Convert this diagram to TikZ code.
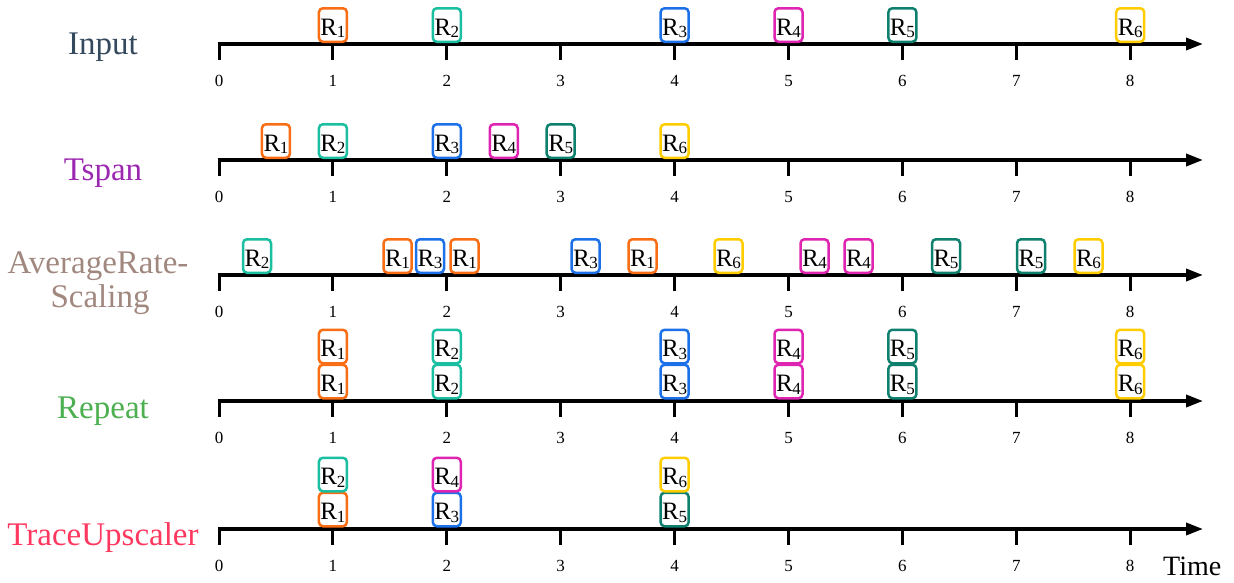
\documentclass[tikz,border=0pt]{standalone}
\usepackage{fontspec}
\setmainfont{Liberation Serif}
\usetikzlibrary{arrows.meta}
\definecolor{cR1}{RGB}{249,110,20}
\definecolor{cR2}{RGB}{26,190,160}
\definecolor{cR3}{RGB}{28,112,232}
\definecolor{cR4}{RGB}{222,36,176}
\definecolor{cR5}{RGB}{14,128,110}
\definecolor{cR6}{RGB}{255,204,0}
\definecolor{cInput}{RGB}{52,73,94}
\definecolor{cTspan}{RGB}{156,39,176}
\definecolor{cARS}{RGB}{161,136,127}
\definecolor{cRepeat}{RGB}{76,175,80}
\definecolor{cTU}{RGB}{255,56,96}
\newcommand\Rsub[1]{R\kern-0.3pt\raisebox{-2.5pt}{\fontsize{17}{17}\selectfont #1}}
\tikzset{
  rbox/.style={draw=cR#1, line width=2.5pt, rounded corners=4pt,
    minimum width=28pt, minimum height=33.5pt, inner sep=0pt,
    text height=20pt, text depth=0pt, font=\fontsize{25}{25}\selectfont,
    node contents={\Rsub{#1}}},
  axisline/.style={line width=3.5pt, -{Triangle[length=17pt,width=12pt]}},
  tickmark/.style={line width=3pt},
  ticklabel/.style={font=\fontsize{17}{17}\selectfont, inner sep=0pt},
  rowlabel/.style={font=\fontsize{33}{33}\selectfont, anchor=base, inner sep=0pt},
}
\begin{document}
\begin{tikzpicture}[x=1pt,y=-1pt]
\useasboundingbox (0,0) rectangle (1234,582);
% axes with ticks
\foreach \row/\y in {in/44, ts/160, ars/275, rep/401, tu/529}{
  \coordinate (\row-s) at (217.5,\y);
  \coordinate (\row-e) at (1203,\y);
  \draw[axisline] (\row-s) -- (\row-e);
  \foreach \t in {0,0.5,...,8}{
    \coordinate (\row-t\t) at ({219+113.9*\t},\y-1.5);
    \coordinate (\row-b\t) at ({219+113.9*\t},\y+16);
    \draw[tickmark] (\row-t\t) -- (\row-b\t);
  }
  \foreach \t in {0,...,8}{
    \node[ticklabel] (\row-l\t) at ({219+113.9*\t},\y+37) {\t};
  }
}
% row labels
\node[rowlabel, text=cInput] (lab-in) at (103,54) {Input};
\node[rowlabel, text=cTspan] (lab-ts) at (103,180) {Tspan};
\node[rowlabel, text=cARS] (lab-ars1) at (98,273) {AverageRate-};
\node[rowlabel, text=cARS] (lab-ars2) at (100,307) {Scaling};
\node[rowlabel, text=cRepeat] (lab-rep) at (103,418) {Repeat};
\node[rowlabel, text=cTU] (lab-tu) at (103,545) {TraceUpscaler};
\node[font=\fontsize{28}{28}\selectfont, anchor=base west, inner sep=0pt] (time) at (1163,575) {Time};
% Input
\foreach \t/\r in {1/1,2/2,4/3,5/4,6/5,8/6}{
  \node (in-\r) at ({219+113.9*\t},25) [rbox=\r];
}
% Tspan
\foreach \t/\r in {0.5/1,1/2,2/3,2.5/4,3/5,4/6}{
  \node (ts-\r) at ({219+113.9*\t},141) [rbox=\r];
}
% AverageRateScaling
\foreach \x/\r/\k in {257/2/a,397.5/1/b,430/3/c,464.5/1/d,585.5/3/e,642.5/1/f,728.5/6/g,814.5/4/h,858.5/4/i,946/5/j,1031/5/k,1088.5/6/l}{
  \node (ars-\k) at (\x,256) [rbox=\r];
}
% Repeat
\foreach \t/\r in {1/1,2/2,4/3,5/4,6/5,8/6}{
  \node (rep-\r a) at ({219+113.9*\t},381.5) [rbox=\r];
  \node (rep-\r b) at ({219+113.9*\t},346.5) [rbox=\r];
}
% TraceUpscaler
\foreach \t/\lo/\hi in {1/1/2,2/3/4,4/5/6}{
  \node (tu-\lo) at ({219+113.9*\t},509.5) [rbox=\lo];
  \node (tu-\hi) at ({219+113.9*\t},474.5) [rbox=\hi];
}
\end{tikzpicture}
\end{document}
